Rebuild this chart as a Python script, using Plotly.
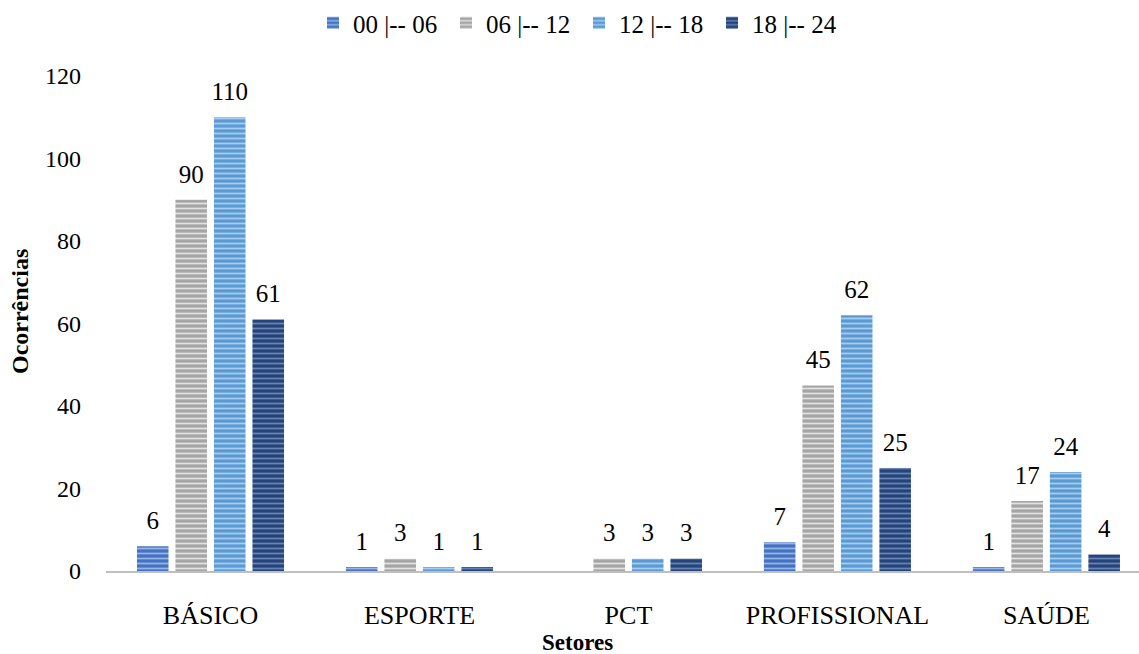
import plotly.graph_objects as go

categories = ["BÁSICO", "ESPORTE", "PCT", "PROFISSIONAL", "SAÚDE"]
series_names = ["00 |-- 06", "06 |-- 12", "12 |-- 18", "18 |-- 24"]
v_00_06 = [6, 1, None, 7, 1]
v_06_12 = [90, 3, 3, 45, 17]
v_12_18 = [110, 1, 3, 62, 24]
v_18_24 = [61, 1, 3, 25, 4]
series_values = [v_00_06, v_06_12, v_12_18, v_18_24]
y_ticks = [0, 20, 40, 60, 80, 100, 120]

base_colors = ["#4472C4", "#A5A5A5", "#5B9BD5", "#264478"]
stripe_colors = ["#9BB5E3", "#E2E2E2", "#A9CDEE", "#6784B8"]

FONT = "Liberation Serif"

fig = go.Figure()
for i, (name, vals) in enumerate(zip(series_names, series_values)):
    fig.add_trace(go.Bar(
        x=categories, y=vals, name=name,
        marker=dict(
            color=base_colors[i],
            line=dict(width=0),
            pattern=dict(shape="-", fgcolor=stripe_colors[i], bgcolor=base_colors[i],
                         size=5, solidity=0.35, fillmode="replace"),
        ),
        offsetgroup=str(i),
    ))

for i, (name, vals) in enumerate(zip(series_names, series_values)):
    fig.add_trace(go.Scatter(
        x=categories, y=vals, mode="markers+text", showlegend=False,
        text=[("" if v is None else str(v)) for v in vals],
        textposition="top center",
        textfont=dict(family=FONT, size=25, color="black"),
        marker=dict(size=16, color="rgba(0,0,0,0)"),
        hoverinfo="skip",
        offsetgroup=str(i),
    ))

fig.update_layout(
    width=1139, height=654,
    margin=dict(l=106, r=0, t=76, b=83),
    plot_bgcolor="white", paper_bgcolor="white",
    barmode="group", bargap=0.263, bargroupgap=0.18,
    scattermode="group", scattergap=0.263,
    font=dict(family=FONT, size=24, color="black"),
    legend=dict(orientation="h", xref="container", x=579 / 1139, xanchor="center",
                y=1.0, yanchor="top", yref="container",
                font=dict(family=FONT, size=25, color="black"),
                entrywidth=88, itemwidth=30, traceorder="normal"),
    xaxis=dict(showline=True, linecolor="#BFBFBF", linewidth=2, showgrid=False,
               range=[-0.5, 4.443], ticks="", ticklabelstandoff=20,
               tickfont=dict(family=FONT, size=26, color="black")),
    yaxis=dict(range=[0, 120], tickvals=y_ticks, showgrid=False, zeroline=False,
               showline=False, ticks="", ticklabelstandoff=24,
               tickfont=dict(family=FONT, size=24, color="black")),
    annotations=[
        dict(text="<b>Setores</b>", xref="paper", yref="paper", x=(577 - 106) / 1033,
             y=-(642 - 571) / 495, xanchor="center", yanchor="middle", showarrow=False,
             font=dict(family=FONT, size=23, color="black")),
        dict(text="<b>Ocorrências</b>", xref="paper", yref="paper", x=-(106 - 20) / 1033,
             y=(571 - 312) / 495, xanchor="center", yanchor="middle", showarrow=False,
             textangle=-90, font=dict(family=FONT, size=24, color="black")),
    ],
)

fig.write_html("out.html")
